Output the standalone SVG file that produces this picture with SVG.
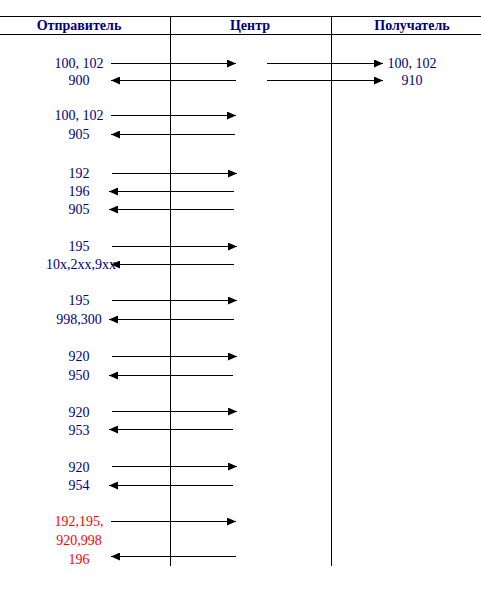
<svg xmlns="http://www.w3.org/2000/svg" width="481" height="600" viewBox="0 0 481 600">
<defs>
<marker id="ah" markerWidth="9" markerHeight="8" refX="9" refY="4" orient="auto" markerUnits="userSpaceOnUse">
<path d="M0,0 L9,4 L0,8 Z" fill="#000"/>
</marker>
<style>
text{font-family:'Liberation Serif','DejaVu Serif',serif;font-size:14px;fill:#000080;text-anchor:middle}
.h{font-weight:bold}
.r{fill:#ff0000}
.g line{stroke:#000;stroke-width:1}
.c line{stroke:#000;stroke-width:1;marker-end:url(#ah)}
</style>
</defs>
<rect width="481" height="600" fill="#fff"/>
<g id="grid" class="g">
<line x1="0" y1="16.5" x2="481" y2="16.5"/>
<line x1="0" y1="34.5" x2="481" y2="34.5"/>
<line x1="170.5" y1="16" x2="170.5" y2="566"/>
<line x1="331.5" y1="16" x2="331.5" y2="566"/>
</g>
<g id="header" font-family="Liberation Serif, serif">
<text class="h" x="79" y="30">Отправитель</text>
<text class="h" x="250" y="30">Центр</text>
<text class="h" x="412" y="30">Получатель</text>
</g>
<g id="sender" font-family="Liberation Serif, serif">
<text x="79" y="68">100, 102</text>
<text x="79" y="85">900</text>
<text x="79" y="120">100, 102</text>
<text x="79" y="139">905</text>
<text x="79" y="178">192</text>
<text x="79" y="196">196</text>
<text x="79" y="214">905</text>
<text x="79" y="251">195</text>
<text x="81" y="269">10x,2xx,9xx</text>
<text x="79" y="305">195</text>
<text x="79" y="324">998,300</text>
<text x="79" y="361">920</text>
<text x="79" y="380">950</text>
<text x="79" y="417">920</text>
<text x="79" y="435">953</text>
<text x="79" y="472">920</text>
<text x="79" y="490">954</text>
<text class="r" x="79" y="526">192,195,</text>
<text class="r" x="79" y="545">920,998</text>
<text class="r" x="79" y="564">196</text>
</g>
<g id="receiver">
<text x="412" y="68">100, 102</text>
<text x="412" y="85">910</text>
</g>
<g id="connectors" class="c">
<line x1="111" y1="63.5" x2="236" y2="63.5"/>
<line x1="267" y1="63.5" x2="383" y2="63.5"/>
<line x1="236" y1="80.5" x2="111" y2="80.5"/>
<line x1="267" y1="80.5" x2="383" y2="80.5"/>
<line x1="111" y1="115.5" x2="236" y2="115.5"/>
<line x1="235" y1="134.5" x2="111" y2="134.5"/>
<line x1="112" y1="173.5" x2="237" y2="173.5"/>
<line x1="234" y1="191.5" x2="109" y2="191.5"/>
<line x1="234" y1="209.5" x2="109" y2="209.5"/>
<line x1="112" y1="246.5" x2="237" y2="246.5"/>
<line x1="234" y1="264.5" x2="111" y2="264.5"/>
<line x1="112" y1="300.5" x2="237" y2="300.5"/>
<line x1="234" y1="319.5" x2="109" y2="319.5"/>
<line x1="112" y1="356.5" x2="237" y2="356.5"/>
<line x1="233" y1="375.5" x2="109" y2="375.5"/>
<line x1="112" y1="411.5" x2="237" y2="411.5"/>
<line x1="233" y1="429.5" x2="109" y2="429.5"/>
<line x1="112" y1="466.5" x2="237" y2="466.5"/>
<line x1="233" y1="485.5" x2="109" y2="485.5"/>
<line x1="111" y1="521.5" x2="236" y2="521.5"/>
<line x1="236" y1="556.5" x2="111" y2="556.5"/>
</g>
</svg>
